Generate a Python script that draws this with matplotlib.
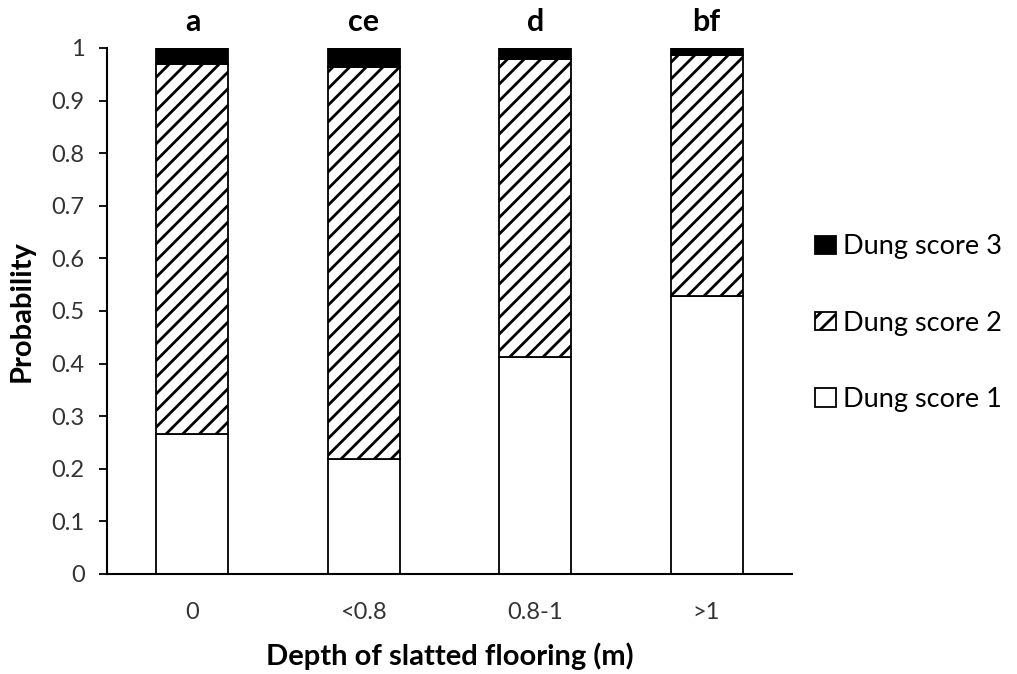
import matplotlib.pyplot as plt
import numpy as np

# Probability of each dung score by depth of slatted flooring
depths = ["0", "<0.8", "0.8-1", ">1"]
score1 = [0.266, 0.219, 0.413, 0.528]
score2 = [0.704, 0.745, 0.567, 0.459]
score3 = [0.030, 0.036, 0.020, 0.013]
letters = ["a", "ce", "d", "bf"]

plt.rcParams['font.family'] = ['Lato', 'DejaVu Sans']
plt.rcParams['hatch.linewidth'] = 2.0

fig = plt.figure(figsize=(10.17, 6.74), dpi=100)
ax = fig.add_axes([0.105, 0.1484, 0.674, 0.7804])

x = np.arange(len(depths))
w = 0.42
b1 = ax.bar(x, score1, w, color='white', edgecolor='black', linewidth=1.3,
            label='Dung score 1')
b2 = ax.bar(x, score2, w, bottom=score1, color='white', edgecolor='black',
            linewidth=1.3, hatch='//', label='Dung score 2')
bottom3 = np.array(score1) + np.array(score2)
b3 = ax.bar(x, score3, w, bottom=bottom3, color='black', edgecolor='black',
            linewidth=1.3, label='Dung score 3')

# significance letters above bars
for xi, lab in zip(x, letters):
    ax.text(xi, 1.022, lab, ha='center', va='bottom', fontsize=22,
            fontweight='bold')

ax.set_xlim(-0.5, 3.5)
ax.set_ylim(0, 1)
ax.set_yticks(np.arange(0, 1.01, 0.1))
ax.set_yticklabels(["0", "0.1", "0.2", "0.3", "0.4", "0.5", "0.6", "0.7",
                    "0.8", "0.9", "1"])
ax.set_xticks(x)
ax.set_xticklabels(depths)
ax.tick_params(axis='x', length=0, pad=20, labelsize=17)
ax.tick_params(axis='y', length=6, width=1.3, pad=10, labelsize=17)
ax.tick_params(axis='both', labelcolor='#333333')
for s in ['top', 'right']:
    ax.spines[s].set_visible(False)
for s in ['left', 'bottom']:
    ax.spines[s].set_linewidth(1.5)

ax.set_xlabel("Depth of slatted flooring (m)", fontsize=21, fontweight='bold',
              labelpad=14)
ax.set_ylabel("Probability", fontsize=21, fontweight='bold', labelpad=12)

ax.legend(handles=[b3, b2, b1], loc='center left', bbox_to_anchor=(0.998, 0.477),
          frameon=False, fontsize=19.5, handlelength=0.75, handleheight=0.65,
          handletextpad=0.26, labelspacing=1.9)

fig.savefig("out.png", dpi=100)
